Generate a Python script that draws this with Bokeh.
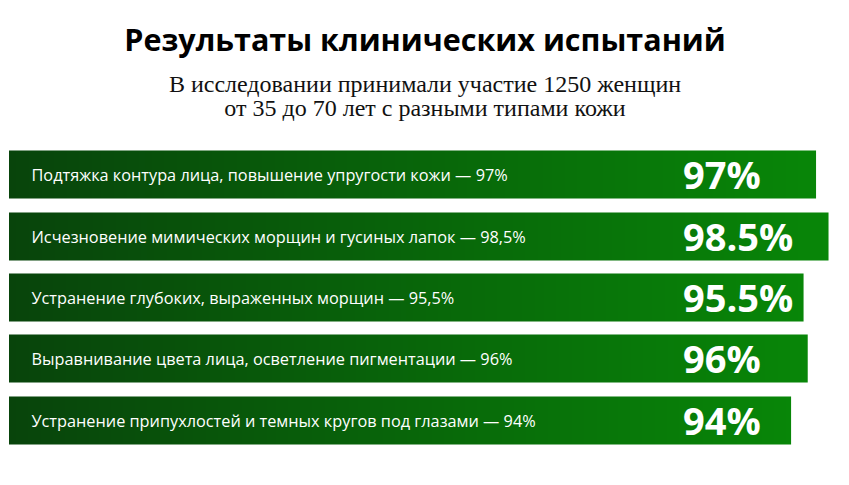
import numpy as np
from bokeh.plotting import figure
from bokeh.models import Range1d, ColumnDataSource
from bokeh.core.properties import value
from bokeh.embed import file_html
from bokeh.resources import INLINE

title = "Результаты клинических испытаний"
subtitle_lines = ["В исследовании принимали участие 1250 женщин",
                  "от 35 до 70 лет с разными типами кожи"]
labels = [
    "Подтяжка контура лица, повышение упругости кожи — 97%",
    "Исчезновение мимических морщин и гусиных лапок — 98,5%",
    "Устранение глубоких, выраженных морщин — 95,5%",
    "Выравнивание цвета лица, осветление пигментации — 96%",
    "Устранение припухлостей и темных кругов под глазами — 94%",
]
values = [97, 98.5, 95.5, 96, 94]
value_labels = ["97%", "98.5%", "95.5%", "96%", "94%"]

W, H = 833, 469
K = 8.32  # px per unit
x0 = -8.5 / K
p = figure(width=W, height=H, output_backend="svg", toolbar_location=None,
           x_range=Range1d(x0, x0 + W / K), y_range=Range1d(0, H),
           min_border=0)
p.axis.visible = False
p.grid.visible = False
p.outline_line_color = None
p.background_fill_color = "white"


def yy(py):
    return H - py


first_top = 150
pitch = 61.5
bh = 48
tops = [round(first_top + i * pitch) for i in range(len(values))]
centers = [yy(t + bh / 2) for t in tops]

# gradient image per bar
M = 256
c0 = np.array([8, 68, 11], dtype=float)
c1 = np.array([8, 134, 8], dtype=float)
t = np.linspace(0, 1, M)[:, None]
cols = np.round(c0 + (c1 - c0) * t).astype(np.uint8)
img = np.empty((1, M), dtype=np.uint32)
view = img.view(dtype=np.uint8).reshape((1, M, 4))
view[0, :, 0:3] = cols
view[0, :, 3] = 255
p.image_rgba(image=[img] * len(values), x=[0] * len(values),
             y=[c - bh / 2 for c in centers], dw=values, dh=[bh] * len(values))

src = ColumnDataSource(dict(y=centers, lab=labels, val=value_labels,
                            x=[0] * len(values), vx=[81] * len(values)))
p.text(x="x", y="y", text="lab", source=src, x_offset=22.5, text_align="left",
       text_baseline="middle", text_color="white", text_font_size="16.3px",
       text_font=value("Open Sans"))
p.text(x="vx", y="y", text="val", source=src, text_align="left",
       text_baseline="middle", text_color="white", text_font_size="38px",
       text_font=value("Open Sans"), text_font_style="bold", y_offset=-1)

p.text(x=[50], y=[yy(38.5)], text=[title], text_align="center",
       text_baseline="middle", text_color="black", text_font_size="30.5px",
       text_font=value("Open Sans"), text_font_style="bold")
p.text(x=[50, 50], y=[yy(83), yy(107)], text=subtitle_lines, text_align="center",
       text_baseline="middle", text_color="#111111", text_font_size="24px",
       text_font=value("Liberation Serif"))

open("out.html", "w").write(file_html(p, INLINE))
